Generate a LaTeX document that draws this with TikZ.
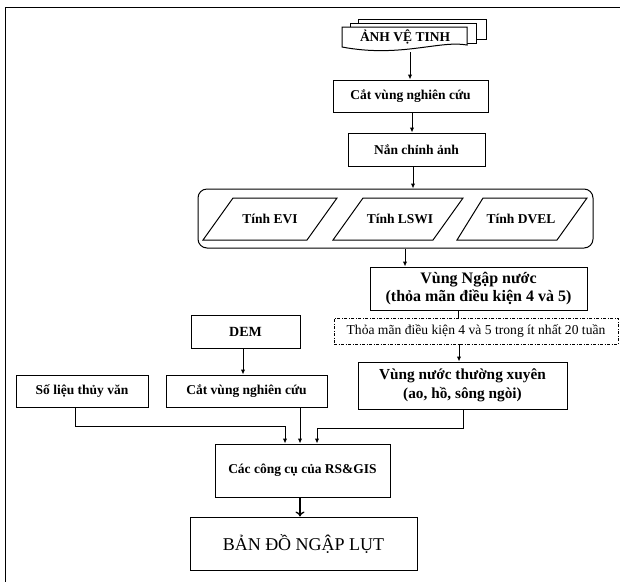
\documentclass[tikz,border=0pt]{standalone}
\usepackage{fontspec}
\setmainfont{Liberation Serif}
\usetikzlibrary{arrows.meta}
\begin{document}
\begin{tikzpicture}[x=1pt,y=-1pt,
  ln/.style={line width=1pt},
  box/.style={draw, line width=1pt, inner sep=0pt, align=center},
  arr/.style={line width=1pt, -{Latex[length=5pt,width=4.5pt]}},
  bigarr/.style={line width=1.3pt, -{To[length=5pt,width=9pt]}},
  fb/.style={font=\fontsize{13.5}{16}\selectfont\bfseries},
  fr/.style={font=\fontsize{13.6}{16}\selectfont},
  fbig/.style={font=\fontsize{18}{21}\selectfont},
  dotbox/.style={draw, line width=0.9pt, dash pattern=on 3pt off 1.5pt on 1pt off 1.5pt, inner sep=0pt}
]
\useasboundingbox (0,0) rectangle (620,582);
% frame
\draw[ln] (620,7) -- (5,7) -- (5,582);

% stacked documents
\draw[ln, fill=white] (358,23) -- (358,19) -- (486,19) -- (486,39) -- (476,39);
\draw[ln, fill=white] (350,27) -- (350,23) -- (476,23) -- (476,43) -- (467,43);
\draw[ln, fill=white] (342,27) -- (467,27) -- (467,45) .. controls (440,40) and (400,58) .. (342,47) -- cycle;
\node[font=\fontsize{13.5}{15}\selectfont\bfseries] (doc) at (405,37) {ẢNH VỆ TINH};
\coordinate (docb) at (410,52);

\node[box, fb, minimum width=155pt, minimum height=32pt] (cat1) at (410.5,96) {Cắt vùng nghiên cứu};
\node[box, fb, minimum width=137pt, minimum height=33pt] (nan) at (416.5,149.5) {Nắn chỉnh ảnh};

\node[draw, line width=1pt, rounded corners=9pt, minimum width=395pt, minimum height=59pt, inner sep=0pt] (grp) at (395.5,218.5) {};
\draw[ln] (233,198) -- (337,198) -- (307,240) -- (203,240) -- cycle;
\draw[ln] (363,198) -- (463,198) -- (433,240) -- (333,240) -- cycle;
\draw[ln] (483,198) -- (587,198) -- (557,240) -- (457,240) -- cycle;
\node[fb] (p1) at (270,219) {Tính EVI};
\node[fb] (p2) at (400,219) {Tính LSWI};
\node[fb] (p3) at (521,219) {Tính DVEL};

\node[box, font=\fontsize{16}{18}\selectfont\bfseries, minimum width=217pt, minimum height=43pt] (ngap) at (478.5,288.5) {Vùng Ngập nước\\(thỏa mãn điều kiện 4 và 5)};
\node[dotbox, fr, minimum width=284pt, minimum height=26pt] (dot) at (476,331) {Thỏa mãn điều kiện 4 và 5 trong ít nhất 20 tuần};
\node[box, font=\fontsize{15.3}{19}\selectfont\bfseries, minimum width=209pt, minimum height=47pt] (txuyen) at (462.5,385.5) {Vùng nước thường xuyên\\(ao, hồ, sông ngòi)};

\node[box, font=\fontsize{14}{16}\selectfont\bfseries, minimum width=109pt, minimum height=33pt] (dem) at (245.5,331.5) {DEM};
\node[box, fb, minimum width=161pt, minimum height=32pt] (cat2) at (246.5,391) {Cắt vùng nghiên cứu};
\node[box, fb, minimum width=132pt, minimum height=32pt] (solieu) at (82,391) {Số liệu thủy văn};

\node[box, fb, minimum width=175pt, minimum height=53pt] (rs) at (302.5,470.5) {Các công cụ của RS\&GIS};
\node[box, fbig, minimum width=227pt, minimum height=53pt] (ban) at (303.5,543.5) {BẢN ĐỒ NGẬP LỤT};

% connectors
\draw[arr] (docb) -- (docb |- cat1.north);
\draw[arr] ([xshift=1.5pt]cat1.south) -- ([xshift=1.5pt]cat1.south |- nan.north);
\draw[arr] ([xshift=-3.5pt]nan.south) -- ([xshift=-3.5pt]nan.south |- grp.north);
\draw[arr] ([xshift=9.5pt]grp.south) -- ([xshift=9.5pt]grp.south |- ngap.north);
\draw[ln] ([xshift=-20.5pt]ngap.south) -- ([xshift=-20.5pt]ngap.south |- dot.north);
\draw[arr] ([xshift=-17pt]dot.south) -- ([xshift=-17pt]dot.south |- txuyen.north);
\draw[arr] ([xshift=-2.5pt]dem.south) -- ([xshift=-2.5pt]dem.south |- cat2.north);
\draw[arr] ([xshift=-7pt]solieu.south) -- ++(0,19) -| ([xshift=-17.5pt]rs.north);
\draw[arr] ([xshift=-2.5pt]rs.north |- cat2.south) -- ([xshift=-2.5pt]rs.north);
\draw[arr] ([xshift=0.5pt]txuyen.south) -- ++(0,19) -| ([xshift=14.5pt]rs.north);
\draw[bigarr] ([xshift=-2.5pt]rs.south) -- ([xshift=-2.5pt]rs.south |- ban.north);
\end{tikzpicture}
\end{document}
